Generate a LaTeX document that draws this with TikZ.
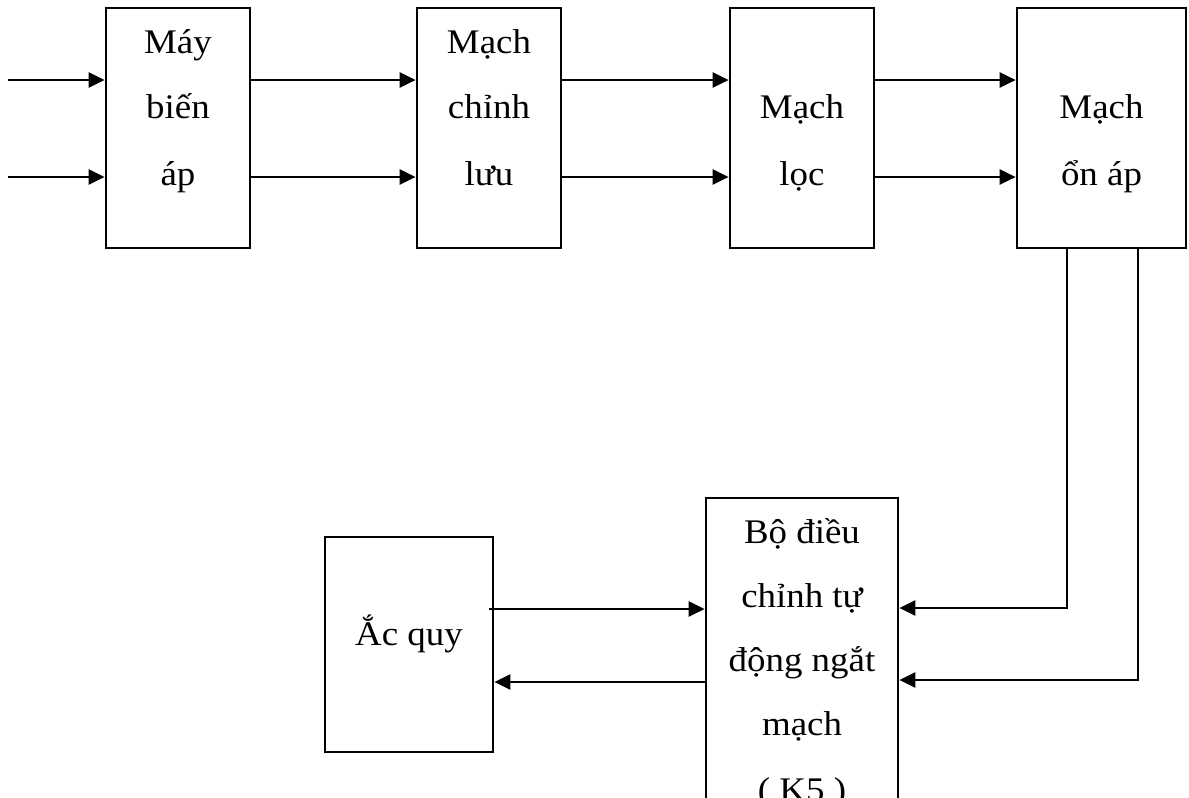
\documentclass[tikz,border=0pt]{standalone}
\usepackage{fontspec}
\setmainfont{Liberation Serif}[FakeStretch=1.07]
\usetikzlibrary{arrows.meta}
\begin{document}
\begin{tikzpicture}[x=1pt,y=-1pt,
  blk/.style={draw,line width=2.7pt,inner sep=0pt},
  lbl/.style={anchor=base,inner sep=0pt,font=\fontsize{34.5}{42}\selectfont},
  arr/.style={line width=2.7pt,-{Triangle[length=16pt,width=15pt]}},
  wire/.style={line width=2.7pt}]
\useasboundingbox (0,0) rectangle (1189,798);
\clip (0,0) rectangle (1189,798);
\fill[white] (0,0) rectangle (1189,798);
% blocks
\node[blk,minimum width=144pt,minimum height=240pt] (b1) at (178,128) {};
\node[blk,minimum width=144pt,minimum height=240pt] (b2) at (489,128) {};
\node[blk,minimum width=144pt,minimum height=240pt] (b3) at (802,128) {};
\node[blk,minimum width=169pt,minimum height=240pt] (b4) at (1101.5,128) {};
\node[blk,minimum width=192pt,minimum height=340pt] (b5) at (802,668) {};
\node[blk,minimum width=168pt,minimum height=215pt] (b6) at (409,644.5) {};
% texts
\node[lbl] (t1a) at (178,53) {Máy};
\node[lbl] (t1b) at (178,118) {biến};
\node[lbl] (t1c) at (178,185) {áp};
\node[lbl] (t2a) at (489,53) {Mạch};
\node[lbl] (t2b) at (489,118) {chỉnh};
\node[lbl] (t2c) at (489,185) {lưu};
\node[lbl] (t3a) at (802,118) {Mạch};
\node[lbl] (t3b) at (802,185) {lọc};
\node[lbl] (t4a) at (1101.5,118) {Mạch};
\node[lbl] (t4b) at (1101.5,185) {ổn áp};
\node[lbl] (t5a) at (802,543) {Bộ điều};
\node[lbl] (t5b) at (802,607) {chỉnh tự};
\node[lbl] (t5c) at (802,671) {động ngắt};
\node[lbl] (t5d) at (802,735) {mạch};
\node[lbl] (t5e) at (802,801) {( K5 )};
\node[lbl] (t6) at (409,645) {Ắc quy};
% rows
\coordinate (r1) at (0,80);
\coordinate (r2) at (0,177);
\coordinate (i1) at (8,80);
\coordinate (i2) at (8,177);
\draw[arr] (i1) -- (b1.west |- i1);
\draw[arr] (i2) -- (b1.west |- i2);
\draw[arr] (b1.east |- r1) -- (b2.west |- r1);
\draw[arr] (b1.east |- r2) -- (b2.west |- r2);
\draw[arr] (b2.east |- r1) -- (b3.west |- r1);
\draw[arr] (b2.east |- r2) -- (b3.west |- r2);
\draw[arr] (b3.east |- r1) -- (b4.west |- r1);
\draw[arr] (b3.east |- r2) -- (b4.west |- r2);
% feedback lines
\coordinate (d1) at (1067,608);
\coordinate (d2) at (1138,680);
\draw[arr] (b4.south -| d1) -- (d1) -- (b5.east |- d1);
\draw[arr] (b4.south -| d2) -- (d2) -- (b5.east |- d2);
% battery
\coordinate (e1) at (489,609);
\coordinate (e2) at (0,682);
\draw[arr] (e1) -- (b5.west |- e1);
\draw[arr] (b5.west |- e2) -- (b6.east |- e2);
\end{tikzpicture}
\end{document}
